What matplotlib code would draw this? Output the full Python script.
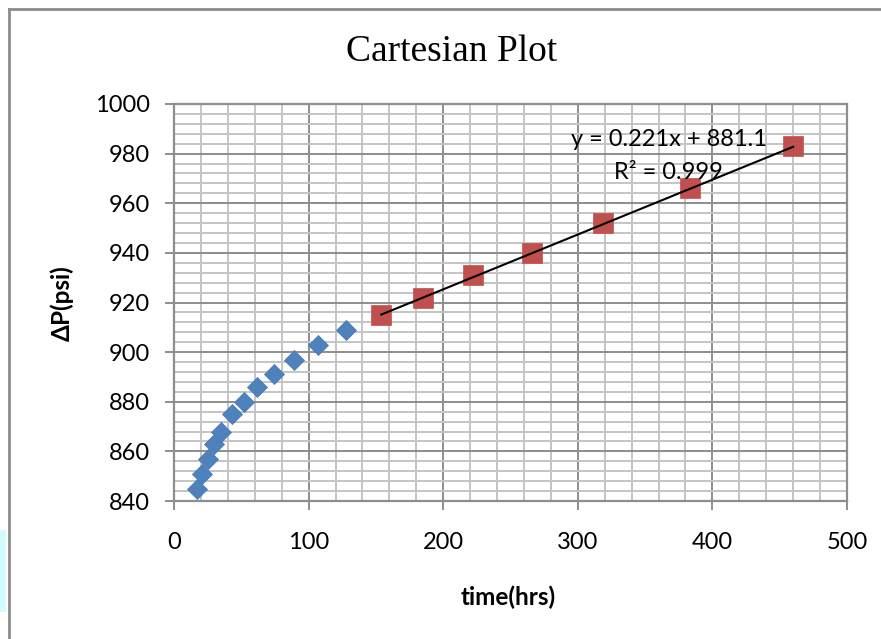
import numpy as np
import matplotlib
matplotlib.use("Agg")
import matplotlib.pyplot as plt
from matplotlib.patches import Rectangle
from matplotlib.lines import Line2D

# Early-time pressure drop (blue) and late-time straight-line segment (red)
early_time = [17, 21, 25, 30, 35, 43, 52, 62, 74, 89, 107, 128]
early_dp = [845, 851, 857, 863, 868, 875, 880, 886, 891, 897, 903, 909]

late_time = [154, 185, 222, 266, 319, 383, 460]
late_dp = [915, 922, 931, 940, 952, 966, 983]

# Linear trend on the late-time points
slope = 0.221
intercept = 881.1
r_squared = 0.999

x_ticks = [0, 100, 200, 300, 400, 500]
y_ticks = [840, 860, 880, 900, 920, 940, 960, 980, 1000]

W, H = 881, 639
fig = plt.figure(figsize=(W / 100, H / 100), dpi=100)
fig.patch.set_facecolor("white")

# chart-area frame (left and top edges visible) and small cyan strip
fig.add_artist(Line2D([9 / W, 9 / W], [0, 1 - 9 / H], transform=fig.transFigure,
                      color="#8c8c8c", lw=2))
fig.add_artist(Line2D([9 / W, 1], [1 - 9 / H, 1 - 9 / H], transform=fig.transFigure,
                      color="#8c8c8c", lw=2))
fig.add_artist(Rectangle((0, 1 - 612 / H), 6 / W, 82 / H, transform=fig.transFigure,
                         facecolor="#d4fbfb", edgecolor="none"))

ax = fig.add_axes([174 / W, 1 - 501 / H, (847 - 174) / W, (501 - 104) / H])
ax.set_xlim(0, 500)
ax.set_ylim(840, 1000)

ax.set_xticks(x_ticks)
ax.set_yticks(y_ticks)
ax.set_xticks(np.arange(0, 501, 20), minor=True)
ax.set_yticks(np.arange(840, 1001, 4), minor=True)

ax.grid(which="minor", color="#c4c4c4", lw=1.4, zorder=0)
ax.grid(which="major", color="#8e8e8e", lw=1.4, zorder=0)
ax.set_axisbelow(True)

for side in ["left", "bottom", "right", "top"]:
    ax.spines[side].set_color("#8e8e8e")
    ax.spines[side].set_linewidth(1.6)

ax.tick_params(which="major", direction="out", length=6.5, width=1.4, color="#8e8e8e",
               labelsize=17, labelcolor="black")
ax.tick_params(axis="x", which="major", pad=16)
ax.tick_params(axis="y", which="major", pad=11)
ax.tick_params(which="minor", length=0)
for lab in ax.get_xticklabels() + ax.get_yticklabels():
    lab.set_fontfamily("Lato")

ax.scatter(early_time, early_dp, marker="D", s=105, color="#4f81bd",
           edgecolors="#4a7ab3", linewidths=0.5, zorder=3)
ax.scatter(late_time, late_dp, marker="s", s=225, color="#c0504d",
           edgecolors="#c24e4b", linewidths=0.5, zorder=3)

fit_x = np.array([late_time[0], late_time[-1]])
ax.plot(fit_x, slope * fit_x + intercept, color="black", lw=1.5, zorder=4)

ax.text(367.5, 985.5, f"y = {slope}x + {intercept}", ha="center", va="center",
        fontsize=17, family="Lato", zorder=5)
ax.text(367.5, 972.3, f"R² = {r_squared}", ha="center", va="center",
        fontsize=17, family="Lato", zorder=5)

fig.text(452 / W, 1 - 52 / H, "Cartesian Plot", ha="center", va="center",
         fontsize=27, family="Liberation Serif")
fig.text(508 / W, 1 - 597 / H, "time(hrs)", ha="center", va="center",
         fontsize=17.5, fontweight="bold", family="Lato")
fig.text(62 / W, 1 - 303 / H, "ΔP(psi)", ha="center", va="center", rotation=90,
         fontsize=17.5, fontweight="bold", family=["Lato", "DejaVu Sans"])

fig.savefig("out.png", dpi=100)
